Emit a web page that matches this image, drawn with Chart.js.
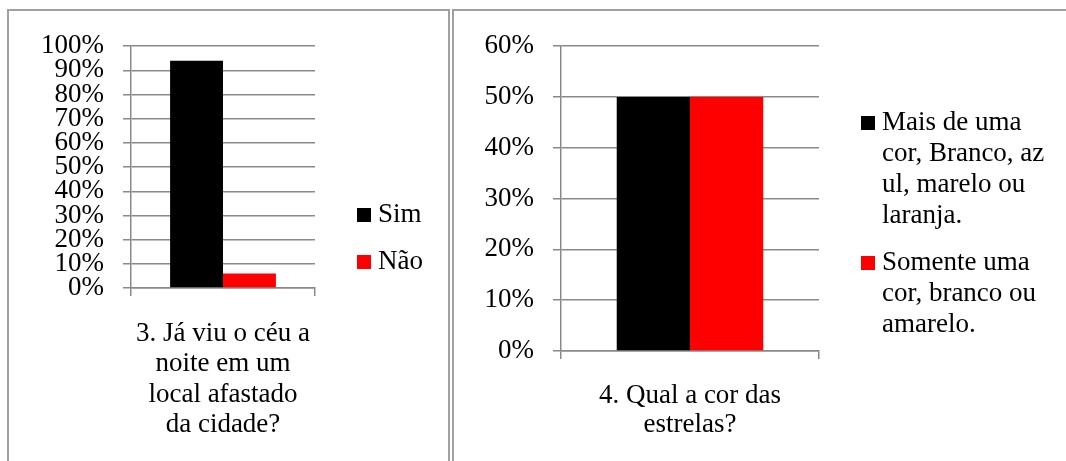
<!DOCTYPE html>
<html>
<head>
<meta charset="utf-8">
<script src="https://cdn.jsdelivr.net/npm/chart.js@4.4.1/dist/chart.umd.min.js"></script>
<style>
  html, body { margin: 0; padding: 0; background: #ffffff; }
  body { width: 1066px; height: 461px; overflow: hidden; position: relative; }
  .panel { position: absolute; top: 9px; height: 480px; border: 2px solid #a0a0a0; box-sizing: content-box; }
  #panel1 { left: 7px; width: 439px; }
  #panel2 { left: 452px; width: 700px; }
  canvas { position: absolute; }
  #chart1 { left: 10px; top: 11px; }
  #chart2 { left: 455px; top: 11px; }
</style>
</head>
<body>
<div class="panel" id="panel1"></div>
<div class="panel" id="panel2"></div>
<canvas id="chart1" width="438" height="460"></canvas>
<canvas id="chart2" width="611" height="460"></canvas>
<script>
// Question 3: seen the night sky away from the city?
const categories1 = [['3. Já viu o céu a', 'noite em um', 'local afastado', 'da cidade?']];
const seriesNames1 = ['Sim', 'Não'];
const simValues = [94];
const naoValues = [6];
const yTicks1 = { max: 100, step: 10 };

// Question 4: colour of the stars
const categories2 = [['4. Qual a cor das', 'estrelas?']];
const seriesNames2 = [
  ['Mais de uma', 'cor, Branco, az', 'ul, marelo ou', 'laranja.'],
  ['Somente uma', 'cor, branco ou', 'amarelo.']
];
const maisDeUmaValues = [50];
const somenteUmaValues = [50];
const yTicks2 = { max: 60, step: 10 };

const seriesColors = ['#000000', '#ff0000'];

const FONT = 'Liberation Serif';
const FONT_SIZE = 27;
const GRID = '#898989';

// Legend drawn to the right of the plot: square swatch + wrapped label lines
const sideLegend = {
  id: 'sideLegend',
  afterDraw(chart, args, opts) {
    const { ctx, chartArea } = chart;
    const lh = opts.lineHeight;
    const items = chart.data.datasets.map(ds => ({
      lines: Array.isArray(ds.legendText) ? ds.legendText : [ds.legendText],
      color: ds.backgroundColor
    }));
    const total = items.reduce((s, it) => s + it.lines.length * lh, 0) + opts.itemGap * (items.length - 1);
    let y = opts.centerY - total / 2;
    const boxX = chartArea.right + opts.offsetX;
    ctx.save();
    ctx.font = FONT_SIZE + 'px "' + FONT + '"';
    ctx.textBaseline = 'middle';
    ctx.textAlign = 'left';
    items.forEach(it => {
      const first = y + lh / 2;
      ctx.fillStyle = it.color;
      ctx.fillRect(boxX, Math.round(first - opts.box / 2), opts.box, opts.box);
      ctx.fillStyle = '#000000';
      it.lines.forEach((line, k) => ctx.fillText(line, boxX + opts.box + opts.textGap, first + k * lh));
      y += it.lines.length * lh + opts.itemGap;
    });
    ctx.restore();
  }
};

function makeChart(id, cfg) {
  const datasets = cfg.series.map((values, i) => ({
    label: Array.isArray(cfg.names[i]) ? cfg.names[i].join(' ') : cfg.names[i],
    legendText: cfg.names[i],
    data: values,
    backgroundColor: seriesColors[i],
    borderWidth: 0,
    categoryPercentage: cfg.catPct,
    barPercentage: 1
  }));
  return new Chart(document.getElementById(id), {
    type: 'bar',
    data: { labels: cfg.categories, datasets },
    plugins: [sideLegend],
    options: {
      responsive: false,
      animation: false,
      devicePixelRatio: 1,
      layout: { padding: { top: 28, left: 0, right: cfg.padRight, bottom: 0 } },
      plugins: {
        tooltip: { enabled: false },
        legend: { display: false },
        sideLegend: {
          offsetX: 42, box: 14, textGap: 7,
          lineHeight: 31, itemGap: 16,
          centerY: cfg.legendCenter
        }
      },
      scales: {
        x: {
          type: 'category',
          offset: true,
          grid: { display: true, drawOnChartArea: false, drawTicks: true, tickLength: 8, color: GRID, lineWidth: 1.5, offset: true },
          border: { display: true, color: GRID, width: 1.5 },
          ticks: {
            autoSkip: false, maxRotation: 0, minRotation: 0,
            padding: cfg.xPad, color: '#000000',
            font: { family: FONT, size: FONT_SIZE, lineHeight: cfg.xLine }
          },
          afterFit(scale) { scale.height = cfg.xHeight; }
        },
        y: {
          type: 'linear',
          position: 'left',
          min: 0,
          max: cfg.yTicks.max,
          grid: { color: GRID, lineWidth: 1.5, tickLength: 8, drawTicks: true },
          border: { display: true, color: GRID, width: 1.5 },
          ticks: {
            stepSize: cfg.yTicks.step,
            autoSkip: false,
            padding: 19,
            color: '#000000',
            font: { family: FONT, size: FONT_SIZE, lineHeight: 1.2 },
            callback: (v) => v + '%'
          },
          afterFit(scale) { scale.width = cfg.yWidth; }
        }
      }
    }
  });
}

makeChart('chart1', {
  categories: categories1,
  names: seriesNames1,
  series: [simValues, naoValues],
  yTicks: yTicks1,
  catPct: 0.575,
  yWidth: 121,
  padRight: 133,
  xHeight: 183,
  xPad: 23,
  xLine: 1.12,
  legendCenter: 227.5
});

makeChart('chart2', {
  categories: categories2,
  names: seriesNames2,
  series: [maisDeUmaValues, somenteUmaValues],
  yTicks: yTicks2,
  catPct: 0.568,
  yWidth: 106,
  padRight: 247,
  xHeight: 120,
  xPad: 22,
  xLine: 1.08,
  legendCenter: 213.3
});
</script>
</body>
</html>
